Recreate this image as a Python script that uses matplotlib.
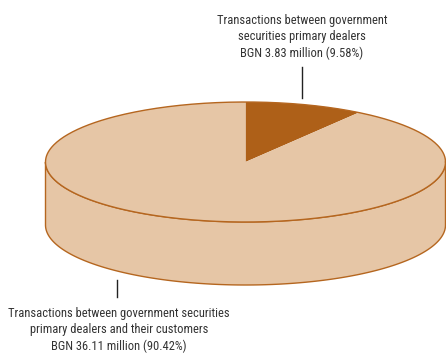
import numpy as np
import matplotlib
matplotlib.use("Agg")
import matplotlib.pyplot as plt
from matplotlib.patches import Wedge, Polygon
from matplotlib.transforms import Affine2D

# BGN million, share of turnover
labels = [
    "Transactions between government\nsecurities primary dealers\nBGN 3.83 million (9.58%)",
    "Transactions between government securities\nprimary dealers and their customers\nBGN 36.11 million (90.42%)",
]
values = [3.83, 36.11]
colors = ["#AE6018", "#E6C6A6"]
edge = "#B5661F"

W, H = 446, 354
fig = plt.figure(figsize=(W / 100, H / 100), dpi=100)
ax = fig.add_axes([0, 0, 1, 1])
ax.set_xlim(0, W)
ax.set_ylim(0, H)
ax.axis("off")

cx, cy = 245.5, H - 162
rx, ry = 200, 60
depth = 63
tilt = Affine2D().scale(1, ry / rx).translate(cx, cy) + ax.transData

# front side of the disc (lower half of the ellipse, extruded down)
t = np.linspace(np.pi, 2 * np.pi, 200)
top = np.column_stack([cx + rx * np.cos(t), cy + ry * np.sin(t)])
bot = top[::-1] - [0, depth]
side = Polygon(np.vstack([top, bot]), closed=True, facecolor=colors[1],
               edgecolor=edge, linewidth=1.0, zorder=1)
ax.add_patch(side)

# top face: slices start at 12 o'clock and run clockwise
total = sum(values)
start = 90.0
for v, c in zip(values, colors):
    sweep = 360.0 * v / total
    w = Wedge((0, 0), rx, start - sweep, start, facecolor=c, edgecolor="none",
              transform=tilt, zorder=2)
    ax.add_patch(w)
    start -= sweep

# outline of the top face
t = np.linspace(0, 2 * np.pi, 400)
ax.plot(cx + rx * np.cos(t), cy + ry * np.sin(t), color=edge, lw=1.0, zorder=3)

font = dict(family=["Roboto Condensed", "DejaVu Sans"], fontstretch="condensed",
            fontsize=9.0, color="#333333", ha="center", va="center",
            linespacing=1.35)

# small slice label, above the disc
ax.plot([301.5, 301.5], [H - 67, H - 98], color="#222222", lw=1.0)
ax.text(302, H - 37, labels[0], **font)

# large slice label, below the disc
ax.plot([117, 117], [H - 280, H - 297], color="#222222", lw=1.0)
ax.text(119, H - 330, labels[1], **font)

fig.savefig("out.png", dpi=100)
